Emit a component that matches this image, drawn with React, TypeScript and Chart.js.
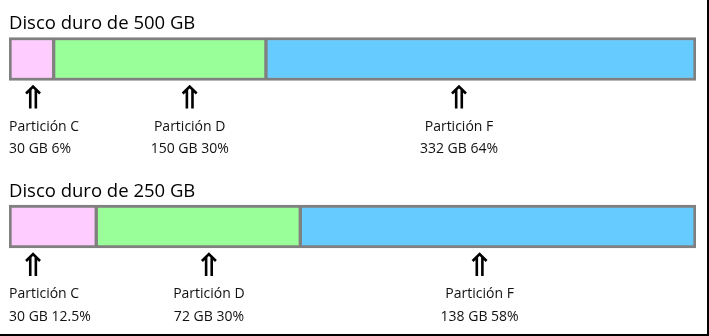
import React, { useEffect, useRef } from "react";
import { Chart, registerables } from "chart.js";

Chart.register(...registerables);

// ---- data ----
const diskTitles = ["Disco duro de 500 GB", "Disco duro de 250 GB"];
const partitionNames = ["Partición C", "Partición D", "Partición F"];
const disk500Gb = [30, 150, 332];
const disk500Pct = ["6%", "30%", "64%"];
const disk250Gb = [30, 72, 138];
const disk250Pct = ["12.5%", "30%", "58%"];
// segment lengths (share of bar width, %) as drawn
const disk500Share = [6.5, 30.9, 62.6];
const disk250Share = [12.7, 29.7, 57.6];
// arrow marker positions along the bar (%)
const disk500Marker = [3.5, 26.3, 65.5];
const disk250Marker = [3.5, 29.1, 68.5];
const segmentColors = ["#ffccff", "#99ff99", "#66ccff"];

const shares = [disk500Share, disk250Share];
const markers = [disk500Marker, disk250Marker];
const gbs = [disk500Gb, disk250Gb];
const pcts = [disk500Pct, disk250Pct];

const FONT = "'Open Sans', 'Noto Sans', sans-serif";

export default function App() {
  const ref = useRef<HTMLCanvasElement | null>(null);

  useEffect(() => {
    if (!ref.current) return;
    const n = partitionNames.length;
    const datasets = partitionNames.map((name, i) => ({
      label: name,
      data: shares.map((s, row) => ({ x: s[i], y: row })),
      backgroundColor: segmentColors[i],
      borderColor: "#808080",
      borderSkipped: false as const,
      borderWidth: {
        top: 3,
        bottom: 3,
        left: i === 0 ? 3 : 2,
        right: i === n - 1 ? 3 : 2,
      },
      barThickness: 43,
    }));

    const annotate = {
      id: "diskAnnotate",
      afterDatasetsDraw(chart: any) {
        const { ctx, scales, chartArea } = chart;
        const xs = scales.x;
        const meta0 = chart.getDatasetMeta(0);
        ctx.save();
        for (let row = 0; row < diskTitles.length; row++) {
          const bar = meta0.data[row];
          const top = bar.y - bar.height / 2;
          const bottom = bar.y + bar.height / 2;
          // title
          ctx.fillStyle = "#000";
          ctx.font = `18.5px ${FONT}`;
          ctx.textAlign = "left";
          ctx.textBaseline = "alphabetic";
          ctx.fillText(diskTitles[row], chartArea.left, top - 8);
          // arrows + labels
          for (let i = 0; i < n; i++) {
            const cx = xs.getPixelForValue(markers[row][i]);
            const aTop = bottom + 5;
            const aBot = bottom + 28;
            ctx.strokeStyle = "#000";
            ctx.lineWidth = 2.6;
            ctx.lineCap = "butt";
            ctx.lineJoin = "miter";
            ctx.beginPath();
            ctx.moveTo(cx - 7, aTop + 8);
            ctx.lineTo(cx, aTop + 1);
            ctx.lineTo(cx + 7, aTop + 8);
            ctx.moveTo(cx - 2.8, aTop + 4);
            ctx.lineTo(cx - 2.8, aBot);
            ctx.moveTo(cx + 2.8, aTop + 4);
            ctx.lineTo(cx + 2.8, aBot);
            ctx.stroke();

            ctx.fillStyle = "#111";
            ctx.font = `14px ${FONT}`;
            const l1 = partitionNames[i];
            const l2 = `${gbs[row][i]} GB ${pcts[row][i]}`;
            const w1 = ctx.measureText(l1).width;
            const w2 = ctx.measureText(l2).width;
            const w = Math.max(w1, w2);
            let left = cx - w / 2;
            const clamped = left < chartArea.left;
            if (clamped) left = chartArea.left;
            ctx.textAlign = clamped ? "left" : "center";
            const tx = clamped ? left : cx;
            ctx.fillText(l1, tx, bottom + 50.5);
            ctx.fillText(l2, tx, bottom + 73);
          }
        }
        ctx.restore();
      },
    };

    const chart = new Chart(ref.current, {
      type: "bar",
      data: { datasets },
      options: {
        indexAxis: "y",
        animation: false,
        responsive: false,
        maintainAspectRatio: false,
        layout: { padding: { left: 9, right: 11, top: 0, bottom: 0 } },
        plugins: { legend: { display: false }, tooltip: { enabled: false } },
        scales: {
          x: { type: "linear", min: 0, max: 100, stacked: true, display: false, offset: false },
          y: {
            type: "linear",
            min: -0.3522,
            max: 1.642,
            reverse: true,
            stacked: true,
            offset: false,
            display: false,
          },
        },
      },
      plugins: [annotate],
    });
    return () => chart.destroy();
  }, []);

  return (
    <div
      style={{
        position: "absolute",
        left: 0,
        top: 0,
        width: 707,
        height: 334,
        borderRight: "2px solid #000",
        borderBottom: "2px solid #000",
        background: "#fff",
      }}
    >
      <canvas ref={ref} width={707} height={334} style={{ display: "block" }} />
    </div>
  );
}
